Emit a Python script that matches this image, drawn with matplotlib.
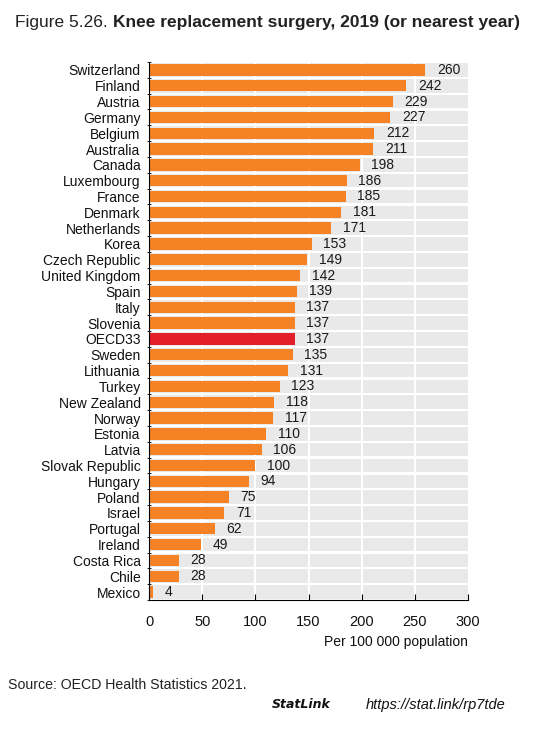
import matplotlib
matplotlib.use("Agg")
import matplotlib.pyplot as plt
import numpy as np

plt.rcParams['font.family'] = ['Liberation Sans', 'DejaVu Sans']

countries = ["Switzerland", "Finland", "Austria", "Germany", "Belgium", "Australia", "Canada",
             "Luxembourg", "France", "Denmark", "Netherlands", "Korea", "Czech Republic",
             "United Kingdom", "Spain", "Italy", "Slovenia", "OECD33", "Sweden", "Lithuania",
             "Turkey", "New Zealand", "Norway", "Estonia", "Latvia", "Slovak Republic",
             "Hungary", "Poland", "Israel", "Portugal", "Ireland", "Costa Rica", "Chile", "Mexico"]
values = [260, 242, 229, 227, 212, 211, 198, 186, 185, 181, 171, 153, 149, 142, 139, 137, 137,
          137, 135, 131, 123, 118, 117, 110, 106, 100, 94, 75, 71, 62, 49, 28, 28, 4]
highlight = "OECD33"
xticks = [0, 50, 100, 150, 200, 250, 300]

fig = plt.figure(figsize=(5.52, 7.38), dpi=100)
ax = fig.add_axes([149/552, 1-600/738, (468-149)/552, (600-62)/738])

n = len(countries)
y = np.arange(n)[::-1]
ax.set_ylim(-0.5, n-0.5)
ax.set_xlim(0, 300)

# gray row bands
ax.barh(y, [300]*n, height=0.86, color="#e9e9e9", zorder=0)
# vertical white gridlines
for xt in xticks[1:-1]:
    ax.axvline(xt, color="white", lw=1.5, zorder=1)
colors = ["#e3202a" if c == highlight else "#f58326" for c in countries]
ax.barh(y, values, height=0.72, color=colors, zorder=2)
for yi, v in zip(y, values):
    ax.text(v + 11, yi, str(v), va="center", ha="left", fontsize=10, color="#1a1a1a", zorder=3)

ax.set_yticks(y)
ax.set_yticklabels(countries, fontsize=10, color="#111111")
ax.set_yticks(np.arange(-0.5, n, 1), minor=True)
ax.tick_params(axis="y", which="major", length=0, pad=6)
ax.tick_params(axis="y", which="minor", length=3, direction="inout", color="black")
ax.set_xticks(xticks)
ax.set_xticklabels([str(t) for t in xticks], fontsize=10.5, color="#111111")
ax.tick_params(axis="x", length=4, direction="in", color="black", pad=11)
for s in ["top", "right"]:
    ax.spines[s].set_visible(False)
ax.spines["left"].set_color("black")
ax.spines["bottom"].set_color("black")
ax.set_facecolor("white")

fig.text(468/552, 1-642/738, "Per 100 000 population", ha="right", va="center", fontsize=10, color="#111111")

t = fig.text(15/552, 1-22/738, "Figure 5.26. ", ha="left", va="center", fontsize=12.5, color="#222222")
fig.canvas.draw()
bb = t.get_window_extent()
fig.text(bb.x1/552, 1-22/738, "Knee replacement surgery, 2019 (or nearest year)", ha="left", va="center",
         fontsize=12.5, fontweight="bold", color="#222222")

fig.text(8/552, 1-685/738, "Source: OECD Health Statistics 2021.", ha="left", va="center", fontsize=10.2, color="#222222")
fig.text(272/552, 1-705/738, "StatLink", ha="left", va="center", fontsize=9, fontweight="bold",
         style="italic", color="#111111", family="DejaVu Sans")
fig.text(366/552, 1-705/738, "https://stat.link/rp7tde", ha="left", va="center", fontsize=10.5,
         style="italic", color="#111111")

fig.savefig("out.png", dpi=100)
